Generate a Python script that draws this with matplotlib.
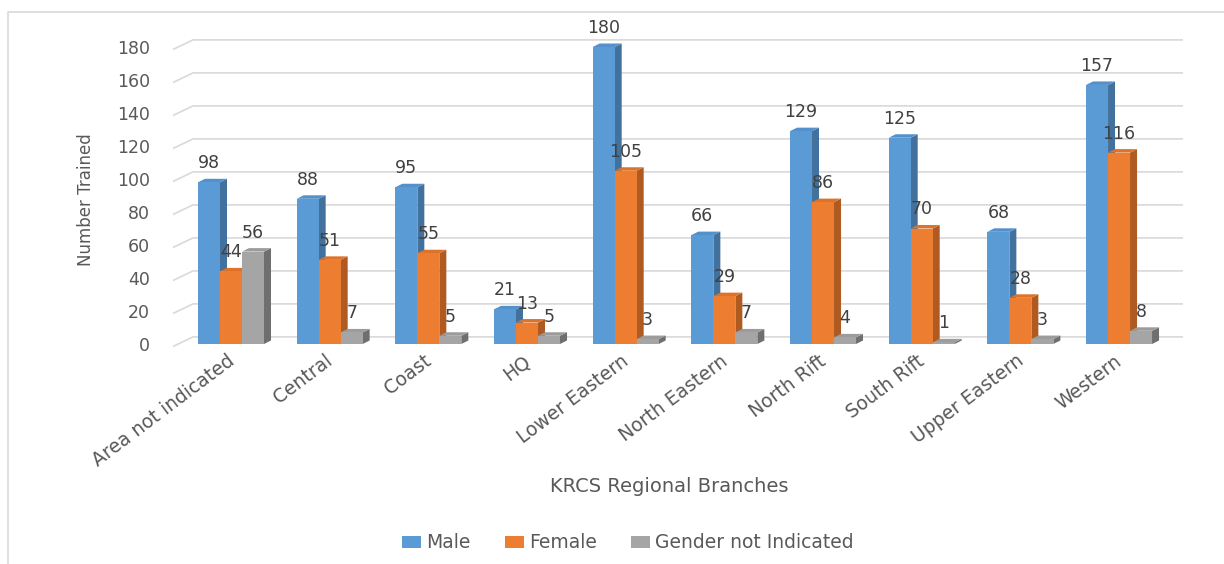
import matplotlib
matplotlib.use("Agg")
import matplotlib.pyplot as plt
from matplotlib.patches import Polygon, Patch
from matplotlib.lines import Line2D

# ---- data -------------------------------------------------------------
branches = ["Area not indicated", "Central", "Coast", "HQ", "Lower Eastern",
            "North Eastern", "North Rift", "South Rift", "Upper Eastern", "Western"]
male = [98, 88, 95, 21, 180, 66, 129, 125, 68, 157]
female = [44, 51, 55, 13, 105, 29, 86, 70, 28, 116]
gender_not_indicated = [56, 7, 5, 5, 3, 7, 4, 1, 3, 8]
series_names = ["Male", "Female", "Gender not Indicated"]
y_ticks = [0, 20, 40, 60, 80, 100, 120, 140, 160, 180]

# ---- styling ----------------------------------------------------------
front_cols = ["#5B9BD5", "#ED7D31", "#A5A5A5"]
top_cols = ["#5490CB", "#DE7229", "#9C9C9C"]
side_cols = ["#41719C", "#AE5A21", "#6F6F6F"]
grid_col = "#D9D9D9"
text_col = "#595959"
label_col = "#404040"

W, H = 1224, 564
fig = plt.figure(figsize=(W / 100, H / 100), dpi=100)
ax = fig.add_axes([0, 0, 1, 1])

# axis scales: one category per group, values in persons
px_per_cat = 98.67
px_per_unit = 1.65
x0_px, base_px = 231.0, 344.0
ax.set_xlim((0 - x0_px) / px_per_cat, (W - x0_px) / px_per_cat)
ax.set_ylim((base_px - H) / px_per_unit, base_px / px_per_unit)
ax.axis("off")

bar_w = 22 / px_per_cat
dx = 7 / px_per_cat          # depth shift, horizontal
dy = 3.5 / px_per_unit       # depth shift, vertical

# back-wall gridlines with the short floor-edge diagonal on the left
g_front_x, g_back_x, g_end_x = -0.588, -0.385, 9.648
for t in y_ticks:
    ax.plot([g_front_x, g_back_x, g_end_x], [t - 1.5, t + 4.3, t + 4.3],
            color=grid_col, lw=1.2, zorder=1, solid_capstyle="butt")
    ax.text(-0.821, t - 1.5, str(t), ha="right", va="center",
            fontsize=12.5, color=text_col)

# 3-D looking columns
all_series = [male, female, gender_not_indicated]
z = 2
for i in range(len(branches)):
    for s, vals in enumerate(all_series):
        v = vals[i]
        left = i - 1.5 * bar_w + s * bar_w
        right = left + bar_w
        ax.bar(left, v, width=bar_w, align="edge", color=front_cols[s],
               edgecolor="none", zorder=z + 1)
        ax.add_patch(Polygon([(right, 0), (right + dx, dy), (right + dx, v + dy), (right, v)],
                             closed=True, facecolor=side_cols[s], edgecolor="none", zorder=z))
        ax.add_patch(Polygon([(left, v), (left + dx, v + dy), (right + dx, v + dy), (right, v)],
                             closed=True, facecolor=top_cols[s], edgecolor="none", zorder=z))
        ax.text(left + bar_w / 2, v + 8.5, str(v), ha="center", va="baseline",
                fontsize=12.5, color=label_col, zorder=1000)
        z += 2

# category labels
for i, name in enumerate(branches):
    ax.text(i + 0.01, (base_px - 359) / px_per_unit, name, rotation=37,
            rotation_mode="anchor", ha="right", va="center",
            fontsize=13.5, color=text_col)

# axis titles
ax.text((86 - x0_px) / px_per_cat, (base_px - 200) / px_per_unit, "Number Trained",
        rotation=90, ha="center", va="center", fontsize=12, color=text_col)
ax.text((669 - x0_px) / px_per_cat, (base_px - 487) / px_per_unit, "KRCS Regional Branches",
        ha="center", va="center", fontsize=14, color=text_col)

# legend
handles = [Patch(facecolor=c, edgecolor="none", label=n) for c, n in zip(front_cols, series_names)]
fig.legend(handles=handles, loc="center", bbox_to_anchor=(628 / W, 1 - 543 / H),
           ncol=3, frameon=False, fontsize=13.5, labelcolor=text_col,
           handlelength=1.0, handleheight=0.6, handletextpad=0.3, columnspacing=1.8)

# chart area frame (left and top edges)
fig.add_artist(Line2D([8 / W, 8 / W, 1], [0, 1 - 12 / H, 1 - 12 / H],
                      transform=fig.transFigure, color=grid_col, lw=1.2))

fig.savefig("out.png", dpi=100, facecolor="white")
